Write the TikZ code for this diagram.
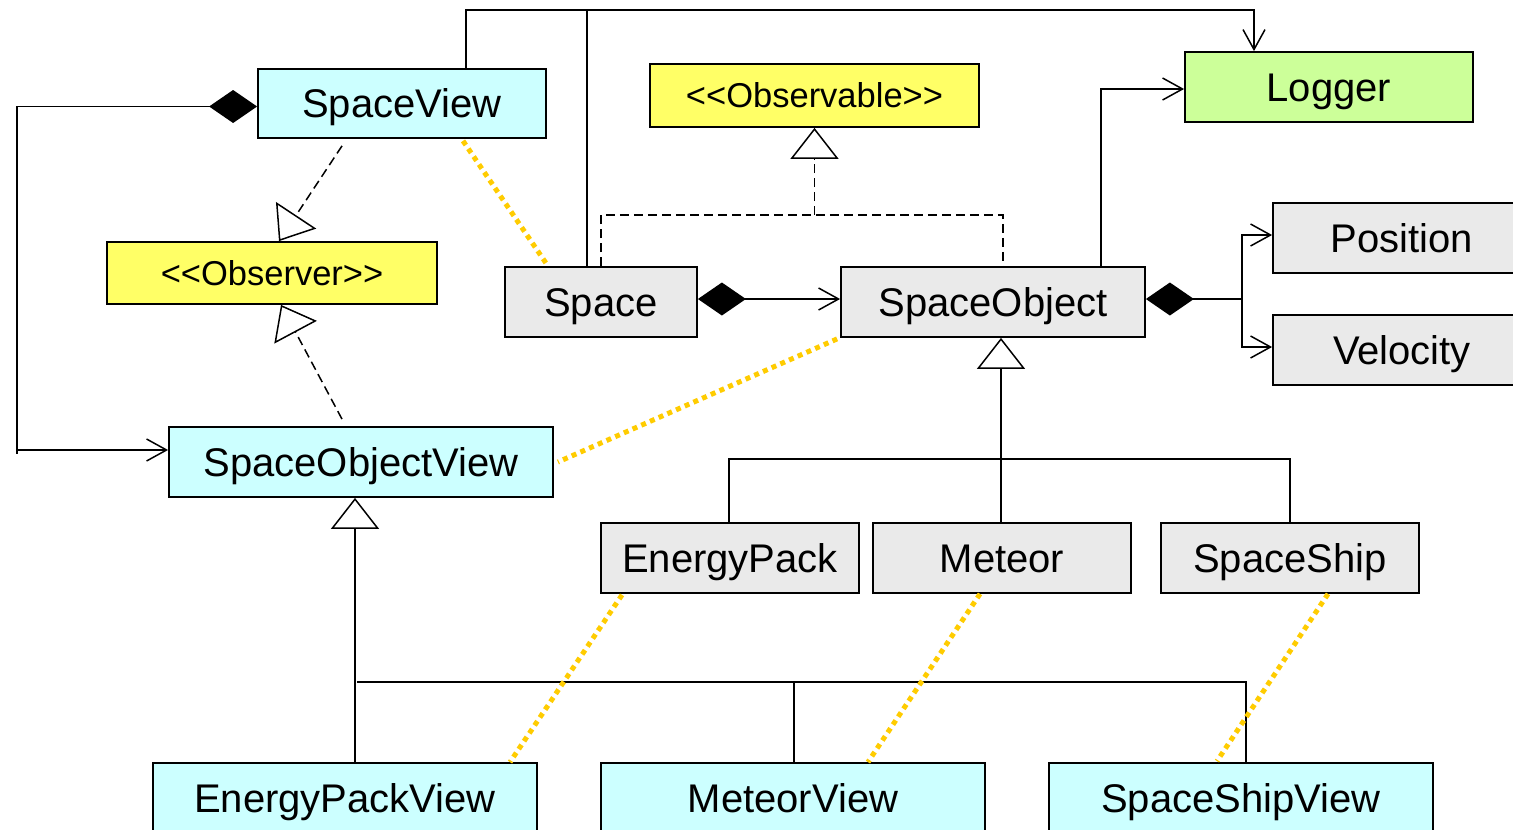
\documentclass[tikz,border=0pt]{standalone}
\usepackage{fontspec}
\setmainfont{Liberation Sans}
\usetikzlibrary{arrows.meta}
\definecolor{viewfill}{HTML}{CCFFFF}
\definecolor{modelfill}{HTML}{EAEAEA}
\definecolor{ifacefill}{HTML}{FFFF66}
\definecolor{logfill}{HTML}{CCFF99}
\definecolor{traceline}{HTML}{FFCC00}
% guillemet-free stereotype brackets
\newcommand{\stereo}[1]{<\kern0pt<#1>\kern0pt>}
\tikzset{
  box/.style={draw, line width=1.8pt, inner sep=0pt, minimum height=70pt,
    text height=28.6pt, text depth=0pt, font=\fontsize{40pt}{40pt}\selectfont},
  viewbox/.style={box, fill=viewfill},
  modelbox/.style={box, fill=modelfill},
  ifacebox/.style={box, fill=ifacefill, minimum height=63pt,
    text height=24.7pt, font=\fontsize{34.5pt}{34.5pt}\selectfont},
  logbox/.style={box, fill=logfill},
  conn/.style={line width=1.5pt},
  assoc/.style={conn, -{Straight Barb[length=20pt,width=22pt]}},
  compo/.style={conn, {Diamond[length=48pt,width=33pt]}-{Straight Barb[length=20pt,width=22pt]}},
  compoline/.style={conn, {Diamond[length=48pt,width=33pt]}-},
  realiz/.style={conn, dash pattern=on 9pt off 5pt},
  realizarrow/.style={realiz, -{Triangle[open,fill=white,length=31pt,width=48pt]}},
  genarrow/.style={conn, -{Triangle[open,fill=white,length=31pt,width=48pt]}},
  trace/.style={traceline, line width=5pt, dash pattern=on 5pt off 4.5pt},
}
\begin{document}
\begin{tikzpicture}[x=1pt,y=-1pt]
\useasboundingbox (0,0) rectangle (1513,830);
\clip (0,0) rectangle (1513,830);
\fill[white] (0,0) rectangle (1513,830);

% classes
\node[viewbox, minimum width=288pt, minimum height=69pt] (sv) at (402,103.5) {SpaceView};
\node[ifacebox, minimum width=330pt, minimum height=62pt] (obs) at (272,273) {\stereo{Observer}};
\node[ifacebox, minimum width=329pt] (obl) at (814.5,95.5) {\stereo{Observable}};
\node[logbox, minimum width=288pt] (log) at (1329,87) {Logger};
\node[modelbox, minimum width=192pt] (sp) at (601,302) {Space};
\node[modelbox, minimum width=304pt] (so) at (993,302) {SpaceObject};
\node[modelbox, minimum width=258pt] (pos) at (1402,238) {Position};
\node[modelbox, minimum width=258pt] (vel) at (1402,350) {Velocity};
\node[viewbox, minimum width=384pt] (sov) at (361,462) {SpaceObjectView};
\node[modelbox, minimum width=258pt] (ep) at (730,558) {EnergyPack};
\node[modelbox, minimum width=258pt] (me) at (1002,558) {Meteor};
\node[modelbox, minimum width=258pt] (ss) at (1290,558) {SpaceShip};
\node[viewbox, minimum width=384pt] (epv) at (345,798) {EnergyPackView};
\node[viewbox, minimum width=384pt] (mv) at (793,798) {MeteorView};
\node[viewbox, minimum width=384pt] (ssv) at (1241,798) {SpaceShipView};

% logging associations
\coordinate (bus) at ([xshift=64pt,yshift=58pt]sv.north);
\draw[assoc] ([xshift=64pt]sv.north) -- (bus) -| ([xshift=-75pt]log.north);
\draw[conn] ([xshift=-14pt]sp.north) -- ([xshift=-14pt]sp.north |- bus);
\draw[assoc] ([xshift=108pt]so.north) |- ([yshift=-2pt]log.west);

% SpaceView owns the object views
\coordinate (rail) at (17,106.5);
\coordinate (railend) at (17,454);
\draw[compo] ([yshift=-3pt]sv.west) -- (rail) |- ([yshift=12pt]sov.west);
\draw[conn] ([yshift=12pt]sov.west -| rail) -- (railend);

% observer realizations
\draw[realizarrow] ([xshift=-60pt,yshift=-7pt]sv.south) -- ([xshift=7pt]obs.north);
\draw[realizarrow] ([xshift=-19pt,yshift=7pt]sov.north) -- ([xshift=9pt]obs.south);

% observable realizations
\coordinate (jn) at (814.5,215);
\draw[realiz] (sp.north) |- (jn) -| ([xshift=10pt]so.north);
\draw[realizarrow] (jn) -- (obl.south);

% compositions
\draw[compo] ([yshift=3pt]sp.east) -- ([yshift=3pt]so.west);
\coordinate (br) at ([xshift=96pt,yshift=3pt]so.east);
\draw[compoline] ([yshift=3pt]so.east) -- (br);
\draw[assoc] (br) |- ([yshift=3pt]pos.west);
\draw[assoc] (br) |- ([yshift=3pt]vel.west);

% model generalization
\coordinate (h1) at (1001,459);
\draw[genarrow] (h1) -- ([xshift=8pt]so.south);
\draw[conn] ([xshift=-1pt]ep.north) |- (h1) -| (ss.north);
\draw[conn] ([xshift=-1pt]me.north) -- ([xshift=-1pt]me.north |- h1);

% view generalization
\draw[genarrow] ([xshift=10pt]epv.north) -- ([xshift=-6pt]sov.south);
\coordinate (h2) at (357,682);
\draw[conn] (h2) -| ([xshift=5pt]ssv.north);
\draw[conn] ([xshift=1pt]mv.north) -- ([xshift=1pt]mv.north |- h2);

% view-to-model traces
\draw[trace] ([xshift=61pt,yshift=-2pt]sv.south) -- ([xshift=-53pt]sp.north);
\draw[trace] ([xshift=-3pt,yshift=-1pt]so.south west) -- ([xshift=4pt]sov.east);
\draw[trace] ([xshift=-108pt,yshift=-1pt]ep.south) -- ([xshift=165pt]epv.north);
\draw[trace] ([xshift=-22pt]me.south) -- ([xshift=75pt]mv.north);
\draw[trace] ([xshift=38pt]ss.south) -- ([xshift=-24pt,yshift=1pt]ssv.north);
\end{tikzpicture}
\end{document}
